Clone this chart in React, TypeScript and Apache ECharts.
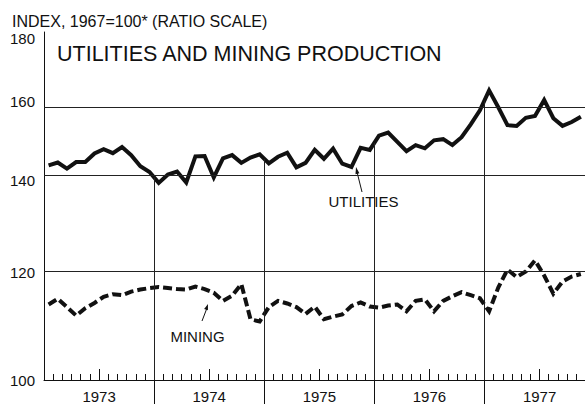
import React, { useEffect, useRef } from 'react';
import * as echarts from 'echarts';

const YEARS = ['1973', '1974', '1975', '1976', '1977'];
const Y_TICKS = [100, 120, 140, 160, 180];

const UTILITIES = [
  143.7, 144.4, 142.9, 144.5, 144.5, 146.6, 147.7, 146.7, 148.2, 146.2, 143.5, 142.1,
  139.5, 141.5, 142.2, 139.6, 145.9, 146.0, 140.8, 145.4, 146.2, 144.3, 145.6, 146.4,
  144.2, 145.8, 146.8, 143.2, 144.3, 147.5, 145.3, 147.8, 144.1, 143.3, 148.0, 147.5,
  151.1, 151.9, 149.5, 147.2, 148.7, 147.9, 149.9, 150.2, 148.7, 150.7, 154.0, 157.7,
  163.1, 158.5, 153.8, 153.6, 155.7, 156.2, 160.5, 155.6, 153.6, 154.6, 156.0,
];

const MINING = [
  113.6, 114.7, 113.1, 111.5, 112.9, 113.9, 115.1, 115.6, 115.4, 116.1, 116.5, 116.8,
  117.0, 116.8, 116.6, 116.5, 117.1, 116.6, 115.9, 114.3, 115.3, 117.6, 110.8, 110.4,
  113.1, 114.3, 113.8, 113.1, 111.8, 113.2, 110.8, 111.3, 111.7, 113.3, 114.0, 113.2,
  113.0, 113.4, 113.6, 112.3, 114.3, 114.6, 112.3, 114.3, 115.2, 116.0, 115.4, 114.8,
  112.3, 116.9, 120.5, 119.0, 120.1, 122.4, 119.3, 115.7, 118.1, 119.1, 119.6,
];

const TITLE = 'UTILITIES AND MINING PRODUCTION';
const HEADER = 'INDEX, 1967=100* (RATIO SCALE)';
const UTIL_LABEL = 'UTILITIES';
const MINING_LABEL = 'MINING';

const X_MAX = 58.95;
const FONT = '"Liberation Sans", Arial, sans-serif';
const INK = '#111';

export default function App() {
  const ref = useRef<HTMLDivElement>(null);

  useEffect(() => {
    document.body.style.margin = '0';
    const chart = echarts.init(ref.current!, null, { renderer: 'svg' });
    const L = (v: number) => Math.log10(v);

    const utilData = UTILITIES.map((v, i) => [i + 0.5, L(v)]);
    const minData = MINING.map((v, i) => [i + 0.5, L(v)]);
    const yearStarts = YEARS.slice(1).map((_, k) => (k + 1) * 12);
    const yearMids = YEARS.map((_, k) => k * 12 + 6);

    const gridLines = Y_TICKS.slice(1).map((v) => ({ yAxis: L(v) }));
    const yearLines = yearStarts.map((m) => {
      const top = Math.sqrt(UTILITIES[m - 1] * UTILITIES[m]);
      return [{ coord: [m, L(Y_TICKS[0])] }, { coord: [m, L(top)] }];
    });

    const baseX = {
      type: 'value',
      min: 0,
      max: X_MAX,
      position: 'bottom',
      splitLine: { show: false },
    };

    const option: any = {
      animation: false,
      backgroundColor: '#fff',
      grid: { left: 44, right: 0, top: 32, bottom: 21, containLabel: false },
      xAxis: [
        {
          ...baseX,
          interval: 1,
          axisLine: { show: true, lineStyle: { color: INK, width: 1 } },
          axisTick: { show: true, inside: true, length: 6, lineStyle: { color: INK, width: 1 } },
          axisLabel: {
            customValues: yearMids,
            formatter: (v: number) => YEARS[Math.round((v - 6) / 12)] ?? '',
            fontFamily: FONT,
            fontSize: 15,
            color: INK,
            margin: 9,
          },
        },
        {
          ...baseX,
          axisLine: { show: false },
          axisTick: { show: true, inside: true, length: 11, customValues: yearMids, lineStyle: { color: INK, width: 1 } },
          axisLabel: { show: false },
        },
        {
          ...baseX,
          axisLine: { show: false },
          axisTick: { show: true, inside: false, length: 24, customValues: yearStarts, lineStyle: { color: INK, width: 1 } },
          axisLabel: { show: false },
        },
      ],
      yAxis: {
        type: 'value',
        min: L(Y_TICKS[0]),
        max: L(Y_TICKS[Y_TICKS.length - 1]),
        axisLine: { show: true, lineStyle: { color: INK, width: 1 } },
        axisTick: { show: false },
        splitLine: { show: false },
        axisLabel: {
          customValues: Y_TICKS.map(L),
          formatter: (v: number) => {
            const n = Math.round(Math.pow(10, v));
            return n === Y_TICKS[Y_TICKS.length - 1] ? `{top|${n}}` : `${n}`;
          },
          fontFamily: FONT,
          fontSize: 15,
          color: INK,
          margin: 9,
          rich: { top: { padding: [12, 0, 0, 0], fontFamily: FONT, fontSize: 15, color: INK } },
        },
      },
      series: [
        {
          name: 'Mining',
          type: 'line',
          xAxisIndex: 0,
          data: minData,
          symbol: 'none',
          lineStyle: { color: INK, width: 4, type: [9, 4], join: 'miter' },
          markLine: {
            silent: true,
            symbol: ['none', 'none'],
            label: { show: false },
            lineStyle: { color: '#222', width: 1, type: 'solid' },
            emphasis: { disabled: true },
            data: [...gridLines, ...yearLines],
          },
        },
        {
          name: 'Utilities',
          type: 'line',
          xAxisIndex: 0,
          data: utilData,
          symbol: 'none',
          lineStyle: { color: INK, width: 4, join: 'miter' },
        },
      ],
      graphic: [
        { type: 'text', x: 12, y: 21, style: { text: HEADER, font: `16px ${FONT}`, fill: INK, align: 'left', verticalAlign: 'middle' } },
        { type: 'text', x: 57, y: 54, style: { text: TITLE, font: `21.5px ${FONT}`, fill: INK, align: 'left', verticalAlign: 'middle' } },
        { type: 'text', x: 363.5, y: 201, style: { text: UTIL_LABEL, font: `15px ${FONT}`, fill: INK, align: 'center', verticalAlign: 'middle' } },
        { type: 'text', x: 197.5, y: 336, style: { text: MINING_LABEL, font: `15px ${FONT}`, fill: INK, align: 'center', verticalAlign: 'middle' } },
        { type: 'line', shape: { x1: 362, y1: 192, x2: 357, y2: 172 }, style: { stroke: INK, lineWidth: 1 } },
        { type: 'polygon', shape: { points: [[356, 167], [359.4, 173.3], [355.5, 174.3]] }, style: { fill: INK } },
        { type: 'line', shape: { x1: 202, y1: 321, x2: 207, y2: 308 }, style: { stroke: INK, lineWidth: 1 } },
        { type: 'polygon', shape: { points: [[208, 304], [207.9, 310.3], [204.1, 309.0]] }, style: { fill: INK } },
      ],
    };

    chart.setOption(option);
    return () => chart.dispose();
  }, []);

  return (
    <div
      ref={ref}
      style={{ position: 'absolute', left: 0, top: 0, width: 585, height: 404, background: '#fff' }}
    />
  );
}
